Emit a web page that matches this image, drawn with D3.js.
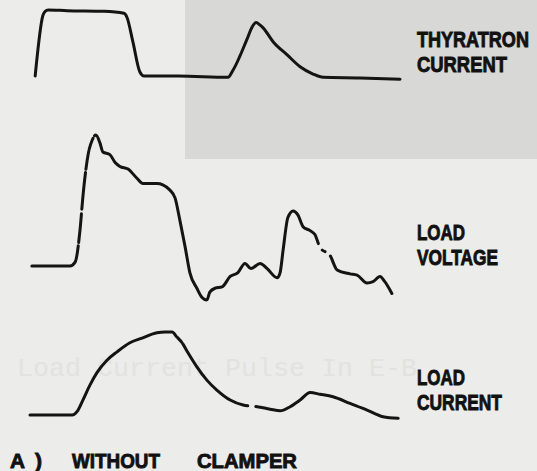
<!DOCTYPE html>
<html>
<head>
<meta charset="utf-8">
<script src="https://cdn.jsdelivr.net/npm/d3@7"></script>
<style>
  html, body { margin: 0; padding: 0; background: #ececea; }
  svg { display: block; }
</style>
</head>
<body>
<div id="chart"></div>
<script>
// sweep time, % of full trace; amplitude, % of each trace's peak
const thyT = [1.4, 3.5, 4.1, 4.9, 10, 20, 25.4, 26.2, 27.8, 29.7, 30.8, 33, 40, 53.5, 54.9, 58.6, 60.0, 61.1, 62.2, 63.0, 65.7, 69.5, 73.0, 76.5, 79.2, 89.2, 100];
const thyV = [0, 92, 98, 100, 99, 98, 95, 89, 52, 6, 0, 0, 0, -2, 9, 55, 74, 81, 77, 73, 52, 32, 14, 3, -2, -3, -5];

const voltT = [0.5, 10.8, 12.2, 13.5, 14.3, 15.7, 16.8, 17.8, 18.9, 19.7, 21.6, 23.0, 24.3, 26.5, 28.9, 30.5, 34.3, 35.9, 37.8, 39.2, 40.5, 41.9, 43.2, 45.1, 46.5, 47.8, 48.6, 50.0, 51.9, 54.1, 56.2, 58.1, 59.7, 62.2, 64.1, 66.8, 67.6, 68.4, 69.7, 71.1, 72.4, 73.8, 75.7, 77.0, 78.4, 81.1, 83.0, 86.5, 88.4, 91.1, 92.7, 94.6, 95.9, 97.8];
const voltV = [0, 0, 3, 27, 53, 85, 96, 100, 94, 87, 85, 79, 76, 74, 67, 63, 63, 62, 58, 52, 35, 15, -5, -17, -24, -26, -20, -17, -16, -8, -5, 2, -2, 2, -2, -9, -5, 12, 37, 42, 39, 30, 27, 24, 14, 8, -3, -6, -7, -13, -12, -8, -12, -21];

const curT = [0, 11.4, 12.7, 14.3, 16.2, 18.1, 20.8, 23.5, 27.0, 30.5, 34.3, 36.5, 38.4, 39.7, 41.1, 42.7, 45.1, 47.8, 50.5, 54.1, 57.6, 61.4, 64.9, 67.6, 70.3, 73.0, 75.7, 78.4, 81.9, 86.5, 91.1, 95.4, 99.5];
const curV = [0, 0, 4, 18, 36, 51, 66, 76, 87, 93, 99, 100, 100, 94, 87, 75, 58, 42, 30, 18, 12, 10, 7, 5, 10, 18, 27, 25, 22, 14, 6, -2, -4];

// faint / broken stretches of the photographed traces (sweep time)
const voltGaps = [[13.05, 13.15], [13.9, 14.0], [15.0, 15.1], [15.9, 16.0], [17.0, 17.4], [77.8, 78.7], [79.4, 81.0]];
const curGaps = [[41.0, 41.3], [58.8, 61.0]];

const labels = [
  { lines: ["THYRATRON", "CURRENT"], widths: [112, 90], y: 47 },
  { lines: ["LOAD", "VOLTAGE"], widths: [48, 81], y: 240 },
  { lines: ["LOAD", "CURRENT"], widths: [48, 85], y: 385 }
];

const caption = [
  { s: "A", x: 10, w: 15 },
  { s: ")", x: 35, w: 7 },
  { s: "WITHOUT", x: 72, w: 88 },
  { s: "CLAMPER", x: 197, w: 100 }
];

const width = 537, height = 471;

const svg = d3.select("#chart")
  .append("svg")
  .attr("width", width)
  .attr("height", height);

// show-through of the facing page
svg.append("rect")
  .attr("x", 185).attr("y", 0)
  .attr("width", width - 185).attr("height", 159)
  .attr("fill", "#d8d8d6");

// scales
const x = d3.scaleLinear().domain([0, 100]).range([30, 400]);
const yThy = d3.scaleLinear().domain([0, 100]).range([76, 10]);
const yVolt = d3.scaleLinear().domain([0, 100]).range([266, 135]);
const yCur = d3.scaleLinear().domain([0, 100]).range([415, 332]);

// squeeze a text horizontally to a given width (condensed lettering)
function fitText(sel, px, py, w) {
  const natural = sel.node().getComputedTextLength();
  sel.attr("transform", `translate(${px},${py}) scale(${w / natural},1)`);
}

const ghost = svg.append("text")
  .attr("font-family", "Liberation Mono, DejaVu Sans Mono, monospace")
  .attr("font-size", 26)
  .attr("fill", "#e2e2e0")
  .text("Load Current Pulse In E-B");
fitText(ghost, 17, 376, 400);

const traces = [
  { t: thyT, v: thyV, y: yThy, gaps: [] },
  { t: voltT, v: voltV, y: yVolt, gaps: voltGaps },
  { t: curT, v: curV, y: yCur, gaps: curGaps }
];

// length along the path where it reaches a given x (path is monotone in x)
function lengthAtX(node, px) {
  let lo = 0, hi = node.getTotalLength();
  for (let i = 0; i < 40; i++) {
    const mid = (lo + hi) / 2;
    if (node.getPointAtLength(mid).x < px) lo = mid; else hi = mid;
  }
  return (lo + hi) / 2;
}

traces.forEach(tr => {
  const pts = tr.t.map((t, i) => ({ t: t, v: tr.v[i] }));
  const line = d3.line()
    .x(d => x(d.t))
    .y(d => tr.y(d.v))
    .curve(d3.curveMonotoneX);

  const path = svg.append("path")
    .datum(pts)
    .attr("d", line)
    .attr("fill", "none")
    .attr("stroke", "#141414")
    .attr("stroke-width", 3)
    .attr("stroke-linecap", "round")
    .attr("stroke-linejoin", "round");

  if (tr.gaps.length) {
    const node = path.node();
    const total = node.getTotalLength();
    const dash = [];
    let pos = 0;
    tr.gaps.forEach(([g0, g1]) => {
      const l0 = lengthAtX(node, x(g0)), l1 = lengthAtX(node, x(g1));
      dash.push(Math.max(0.1, l0 - pos), Math.max(0.1, l1 - l0));
      pos = l1;
    });
    dash.push(total - pos + 10, 0);
    path.attr("stroke-dasharray", dash.join(","));
  }
});

// trace labels (heavy condensed lettering)
const font = "Liberation Sans, Arial, sans-serif";
function boldText(size) {
  return svg.append("text")
    .attr("font-family", font)
    .attr("font-weight", "bold")
    .attr("font-size", size)
    .attr("fill", "#111")
    .attr("stroke", "#111")
    .attr("stroke-width", 0.9);
}

labels.forEach(lb => {
  lb.lines.forEach((s, i) => {
    fitText(boldText(22).text(s), 417, lb.y + i * 25, lb.widths[i]);
  });
});

// caption
caption.forEach(c => {
  fitText(boldText(21).text(c.s), c.x, 468, c.w);
});
</script>
</body>
</html>
